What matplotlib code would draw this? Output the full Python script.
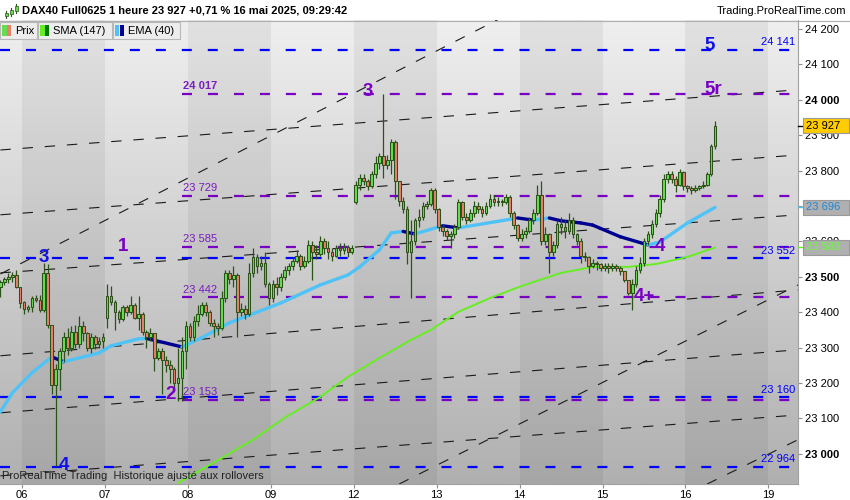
import numpy as np
import matplotlib
matplotlib.use("Agg")
import matplotlib.pyplot as plt
import matplotlib.transforms as mtransforms
from matplotlib.patches import Rectangle
from matplotlib.lines import Line2D
from matplotlib.collections import LineCollection
from matplotlib.colors import LinearSegmentedColormap

plt.rcParams['font.family'] = ['Liberation Sans', 'DejaVu Sans']
plt.rcParams['lines.scale_dashes'] = False

# ---------------- données ----------------
day_labels = ['06', '07', '08', '09', '12', '13', '14', '15', '16', '19']
day_len = [6, 21, 21, 21, 21, 21, 21, 21, 21, 8]          # 05 mai (partiel) ... 16 mai (partiel)
day_open = [23471, 23430, 23385, 23360, 23440, 23710, 23690, 23610, 23525, 23755]

close = [
    23486, 23494, 23500, 23505, 23472, 23426,
    23410, 23415, 23440, 23435, 23405, 23510, 23365, 23195, 23240, 23290, 23330, 23300, 23345, 23310, 23360, 23340, 23300, 23330, 23310, 23320, 23330,
    23445, 23430, 23400, 23380, 23415, 23400, 23420, 23385, 23395, 23345, 23330, 23340, 23270, 23290, 23265, 23250, 23240, 23200, 23215, 23290, 23360,
    23330, 23375, 23395, 23420, 23400, 23370, 23360, 23355, 23440, 23510, 23495, 23505, 23400, 23410, 23395, 23510, 23555, 23530, 23540, 23480, 23440,
    23480, 23470, 23500, 23520, 23530, 23545, 23560, 23530, 23545, 23590, 23570, 23565, 23600, 23580, 23570, 23560, 23580, 23575, 23585, 23570, 23580,
    23760, 23780, 23770, 23755, 23790, 23820, 23840, 23815, 23830, 23880, 23770, 23715, 23690, 23570, 23600, 23660, 23670, 23700, 23705, 23745, 23690,
    23640, 23630, 23615, 23620, 23640, 23710, 23670, 23660, 23680, 23700, 23690, 23680, 23700, 23720, 23710, 23715, 23710, 23725, 23680, 23645, 23610,
    23620, 23630, 23660, 23680, 23730, 23600, 23620, 23570, 23590, 23650, 23640, 23630, 23660, 23620, 23600, 23560, 23555, 23530, 23540, 23535, 23525,
    23530, 23525, 23530, 23525, 23515, 23490, 23455, 23480, 23520, 23540, 23600, 23620, 23650, 23680, 23720, 23775, 23790, 23775, 23760, 23795, 23755,
    23750, 23745, 23750, 23755, 23760, 23790, 23870, 23927,
]
high = [
    23491, 23500, 23511, 23514, 23519, 23460,
    23432, 23420, 23445, 23448, 23448, 23540, 23535, 23365, 23255, 23300, 23345, 23355, 23360, 23365, 23390, 23375, 23345, 23340, 23335, 23330, 23340,
    23480, 23475, 23435, 23405, 23420, 23420, 23445, 23425, 23445, 23400, 23350, 23355, 23340, 23300, 23300, 23275, 23265, 23245, 23300, 23330, 23375,
    23370, 23390, 23420, 23430, 23430, 23405, 23380, 23370, 23460, 23520, 23520, 23530, 23510, 23425, 23420, 23540, 23580, 23565, 23560, 23570, 23485,
    23490, 23500, 23510, 23530, 23540, 23555, 23575, 23565, 23560, 23605, 23600, 23590, 23615, 23610, 23600, 23580, 23590, 23595, 23595, 23590, 23590,
    23770, 23790, 23790, 23775, 23800, 23840, 23850, 24015, 23845, 23890, 23885, 23770, 23725, 23700, 23660, 23665, 23690, 23710, 23715, 23750, 23750,
    23695, 23650, 23635, 23630, 23650, 23720, 23715, 23680, 23690, 23715, 23710, 23700, 23710, 23735, 23730, 23725, 23720, 23735, 23730, 23685, 23650,
    23635, 23640, 23670, 23690, 23760, 23770, 23640, 23625, 23600, 23660, 23670, 23660, 23680, 23670, 23625, 23610, 23570, 23560, 23550, 23545, 23540,
    23540, 23540, 23540, 23535, 23530, 23495, 23490, 23495, 23530, 23555, 23610, 23630, 23660, 23690, 23730, 23790, 23800, 23800, 23785, 23805, 23800,
    23760, 23755, 23760, 23760, 23770, 23795, 23875, 23940,
]
low = [
    23443, 23477, 23483, 23486, 23469, 23412,
    23395, 23400, 23400, 23428, 23400, 23400, 23355, 23170, 22966, 23180, 23260, 23280, 23290, 23300, 23300, 23320, 23290, 23285, 23295, 23300, 23300,
    23355, 23420, 23350, 23370, 23375, 23390, 23395, 23380, 23350, 23335, 23300, 23320, 23235, 23265, 23170, 23230, 23200, 23185, 23150, 23150, 23240,
    23320, 23320, 23360, 23390, 23390, 23360, 23330, 23335, 23350, 23430, 23480, 23470, 23330, 23390, 23380, 23390, 23500, 23510, 23520, 23470, 23420,
    23430, 23450, 23460, 23490, 23505, 23520, 23540, 23520, 23525, 23540, 23490, 23550, 23560, 23565, 23550, 23545, 23555, 23560, 23565, 23555, 23565,
    23705, 23745, 23760, 23745, 23750, 23780, 23805, 23780, 23805, 23790, 23720, 23700, 23680, 23535, 23440, 23590, 23640, 23660, 23690, 23700, 23680,
    23630, 23615, 23605, 23580, 23610, 23635, 23660, 23650, 23655, 23670, 23680, 23670, 23675, 23695, 23700, 23700, 23700, 23705, 23670, 23635, 23600,
    23600, 23610, 23625, 23650, 23675, 23590, 23590, 23510, 23560, 23580, 23620, 23610, 23620, 23610, 23590, 23540, 23545, 23510, 23525, 23520, 23515,
    23515, 23510, 23515, 23515, 23505, 23485, 23450, 23405, 23470, 23510, 23530, 23590, 23610, 23640, 23670, 23710, 23765, 23765, 23740, 23755, 23745,
    23740, 23735, 23740, 23745, 23750, 23755, 23785, 23860,
]

# SMA(147) et EMA(40) (indice de barre, valeur)
sma_bar = [45, 54, 64, 72, 81, 88, 96, 104, 109, 116, 124, 132, 142, 150, 159, 166, 174, 181]
sma_val = [22918, 22975, 23040, 23102, 23161, 23217, 23271, 23322, 23350, 23401, 23440, 23474, 23511, 23528, 23528, 23536, 23556, 23583]
ema_bar = [0, 3, 8, 13, 16, 25, 28, 35, 37, 46, 51, 58, 71, 81, 88, 91, 96, 99, 102, 105, 112, 116, 131, 135, 139, 142, 147, 150, 157, 164, 167, 174, 181]
ema_val = [23119, 23172, 23229, 23274, 23260, 23285, 23305, 23325, 23326, 23302, 23328, 23370, 23426, 23477, 23505, 23528, 23576, 23624, 23628, 23621, 23644, 23638, 23666, 23660, 23666, 23658, 23652, 23646, 23613, 23590, 23598, 23652, 23696]

# niveaux horizontaux
blue_levels = [24141, 23552, 23160, 22964]
purple_levels = [24017, 23729, 23585, 23442, 23153]
purple_start = 46

# canal (droites noires) : prix au début / à la fin, et droites raides (barre, prix, barre, prix)
shallow_start = [23858, 23675, 23511, 23277, 23116, 22938]
shallow_end = [24028, 23844, 23675, 23463, 23294, 23110]
steep_lines = [(0, 23508, 130, 24249), (101, 22915, 202, 23477), (179, 22915, 202, 23040)]

# étiquettes d'Elliott : (texte, barre, prix, couleur)
waves = [('3', 11, 23555, 'blue'), ('1', 31, 23585, 'purple'), ('2', 43, 23168, 'purple'),
         ('3', 93, 24023, 'purple'), ('4', 16, 22966, 'blue'), ('4', 167, 23585, 'purple'),
         ('4+', 163, 23443, 'purple'), ('5', 179.5, 24152, 'blue'), ('5r', 180.5, 24028, 'purple')]

last_price = 23927
ema_last = 23696
sma_last = 23583

# ---------------- calculs ----------------
close = np.array(close, float)
high = np.array(high, float)
low = np.array(low, float)
n = len(close)
first_bar = np.concatenate([[0], np.cumsum(day_len)[:-1]])
opens = np.r_[close[0], close[:-1]]
opens[first_bar] = day_open
high = np.maximum(high, np.maximum(opens, close))
low = np.minimum(low, np.minimum(opens, close))
x = np.arange(n)

BLUE = '#0000FF'
PURPLE = '#7700C4'
PURPLE_TXT = '#7A1CC0'
WICK = '#2B5219'
GREEN = '#66DD50'
RED = '#E8806C'
LIGHTBLUE = '#4FC3F7'
NAVY = '#000090'
SMAGREEN = '#66EE22'

X0, X1 = -0.1, 202
Y0, Y1 = 22915, 24225
PX_PER_PT = 464 / (Y1 - Y0)   # pixels par point d'indice

def fmt(v):
    return f"{v:,.0f}".replace(",", " ")

fig = plt.figure(figsize=(8.5, 5), dpi=100)
fig.patch.set_facecolor('white')
ax = fig.add_axes([0, 16 / 500, 798 / 850, 464 / 500])
ax.set_xlim(X0, X1)
ax.set_ylim(Y0, Y1)

# fond dégradé + bandes journalières
cmap_bg = LinearSegmentedColormap.from_list('bg', ['#B0B0B0', '#EFEFEF'])
ax.imshow(np.linspace(0, 1, 256).reshape(-1, 1), extent=[X0, X1, Y0, Y1], aspect='auto',
          cmap=cmap_bg, origin='lower', zorder=0)
tick_bars = [6 + 21 * k - 0.5 for k in range(len(day_labels))]
for k in range(0, len(tick_bars) - 1, 2):
    ax.axvspan(tick_bars[k], tick_bars[k + 1], color='k', alpha=0.055, lw=0, zorder=0.5)

# canal
for a, b in zip(shallow_start, shallow_end):
    ax.plot([0, 202], [a, b], color='#1a1a1a', lw=0.8, dashes=(7.5, 8.5), zorder=1)
for xa, ya, xb, yb in steep_lines:
    ax.plot([xa, xb], [ya, yb], color='#1a1a1a', lw=0.8, dashes=(7.5, 8.5), zorder=1)

# niveaux
for v in blue_levels:
    ax.axhline(v, color=BLUE, lw=1.6, dashes=(7.2, 11.5), zorder=2)
    ax.text(201.2, v + 7, fmt(v), color=BLUE, fontsize=8, ha='right', va='bottom', zorder=7)
for v in purple_levels:
    ax.hlines(v, purple_start, X1, color=PURPLE, lw=1.6, linestyles=[(0, (7.2, 11.5))], zorder=2)
    ax.text(purple_start + 0.3, v + 7, fmt(v), color=PURPLE_TXT, fontsize=8, ha='left', va='bottom',
            fontweight='bold' if v == 24017 else 'normal', zorder=7)

# moyennes mobiles
ax.plot(sma_bar, sma_val, color=SMAGREEN, lw=1.4, zorder=3, solid_capstyle='round')
pts = np.column_stack([ema_bar, ema_val])
segs = np.stack([pts[:-1], pts[1:]], axis=1)
seg_cols = [NAVY if b[1] < a[1] else LIGHTBLUE for a, b in zip(pts[:-1], pts[1:])]
ax.add_collection(LineCollection(segs, colors=seg_cols, linewidths=2.4, capstyle='round', zorder=3.5))

# chandeliers
up = close >= opens
ax.vlines(x, low, high, color=WICK, lw=0.9, zorder=4)
body_bottom = np.minimum(opens, close)
body_h = np.maximum(np.abs(close - opens), 2.5)
ax.bar(x, body_h, 0.68, body_bottom, color=np.where(up, GREEN, RED), edgecolor=WICK,
       linewidth=0.75, zorder=5)

# vagues
for txt, bx, py, col in waves:
    ax.text(bx, py, txt, color='#1010E8' if col == 'blue' else PURPLE, fontsize=13.5,
            fontweight='bold', ha='center', va='center', zorder=8)

# axes
for s in ['top', 'left']:
    ax.spines[s].set_visible(False)
for s in ['right', 'bottom']:
    ax.spines[s].set_color('#A0A0A0')
yt = list(range(23000, 24201, 100))
ax.yaxis.tick_right()
ax.set_yticks(yt)
ax.set_yticklabels([fmt(v) for v in yt])
for lbl, v in zip(ax.get_yticklabels(), yt):
    if v % 500 == 0:
        lbl.set_fontweight('bold')
        lbl.set_fontsize(8.5)
ax.tick_params(axis='y', length=3, color='#909090', labelsize=8, pad=2)
ax.set_xticks(tick_bars)
ax.set_xticklabels(day_labels)
ax.tick_params(axis='x', length=3, color='#909090', labelsize=8, pad=1.5)

ax.text(2 / 798, 8 / 464, 'ProRealTime Trading  Historique ajusté aux rollovers', transform=ax.transAxes,
        fontsize=8, color='#222222', va='center', ha='left', zorder=9)

# étiquettes de prix sur l'axe (cadres qui recouvrent les graduations voisines)
trans = mtransforms.blended_transform_factory(ax.transAxes, ax.transData)
half_h = 7.5 / PX_PER_PT
for v, fc, tc, mc in [(last_price, '#FFCC00', 'black', 'black'),
                      (ema_last, '#B0B0B0', '#1E88D8', LIGHTBLUE),
                      (sma_last, '#B0B0B0', '#66FF33', SMAGREEN)]:
    ax.plot([1.0, 1.007], [v, v], transform=trans, color=mc, lw=1, clip_on=False, zorder=9)
    ax.add_patch(Rectangle((1 + 5 / 798, v - half_h), 46 / 798, 2 * half_h, transform=trans,
                           fc=fc, ec='#999999', lw=0.8, clip_on=False, zorder=10))
    ax.text(1 + 8 / 798, v, fmt(v), transform=trans, fontsize=8, color=tc, ha='left', va='center',
            clip_on=False, zorder=11)

# en-tête
def px_rect(x0, y0, w, h, **kw):
    fig.add_artist(Rectangle((x0 / 850, 1 - (y0 + h) / 500), w / 850, h / 500,
                             transform=fig.transFigure, **kw))

px_rect(0, 0, 850, 20, fc='white', ec='none', zorder=5)
fig.add_artist(Line2D([0, 1], [1 - 20.5 / 500] * 2, color='#B0B0B0', lw=0.8, transform=fig.transFigure, zorder=6))
for cx, ya, yb in [(6, 11, 18), (11, 8, 16), (16, 4, 13)]:
    fig.add_artist(Line2D([cx / 850] * 2, [1 - yb / 500, 1 - ya / 500], color=WICK, lw=0.8,
                          transform=fig.transFigure, zorder=7))
    px_rect(cx - 1.5, ya + 2, 3, yb - ya - 4, fc=GREEN, ec=WICK, lw=0.5, zorder=8)
fig.text(22 / 850, 1 - 10.5 / 500, 'DAX40 Full0625 1 heure 23 927 +0,71 % 16 mai 2025, 09:29:42',
         fontsize=8, fontweight='bold', va='center', ha='left', zorder=9)
fig.text(846 / 850, 1 - 10.5 / 500, 'Trading.ProRealTime.com', fontsize=8, va='center', ha='right', zorder=9)

# légende
legend_items = [(0, 37, 'Prix', GREEN, RED), (38, 74, 'SMA (147)', SMAGREEN, '#007A00'),
                (113, 67, 'EMA (40)', LIGHTBLUE, NAVY)]
for lx, lw_, txt, c1, c2 in legend_items:
    px_rect(lx, 22, lw_, 17, fc='#EDEDED', ec='#B8B8B8', lw=0.8, zorder=5)
    px_rect(lx + 2, 25, 4.5, 11, fc=c1, ec='none', zorder=6)
    px_rect(lx + 6.5, 25, 4.5, 11, fc=c2, ec='none', zorder=6)
    fig.text((lx + 15) / 850, 1 - 31 / 500, txt, fontsize=8, va='center', ha='left', zorder=7)

fig.savefig('out.png', dpi=100)
